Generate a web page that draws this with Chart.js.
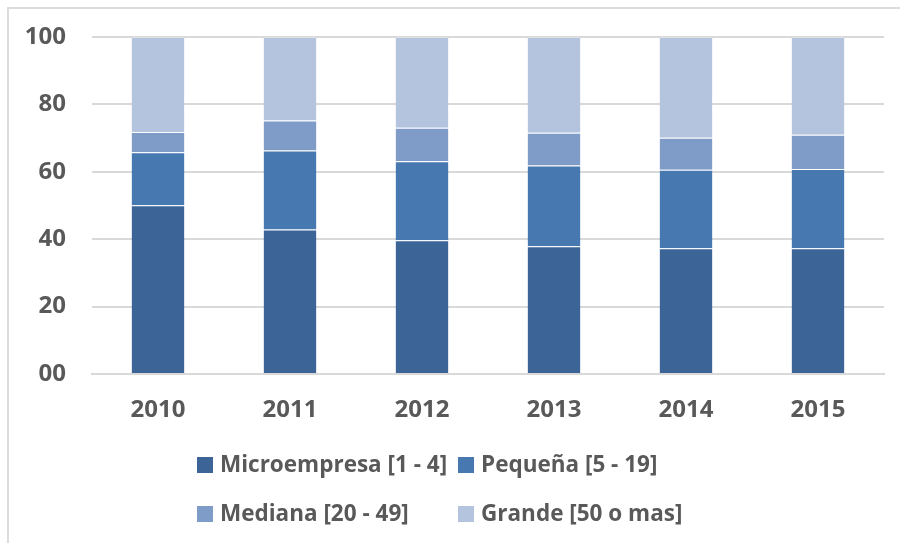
<!DOCTYPE html>
<html>
<head>
<meta charset="utf-8">
<script src="https://cdn.jsdelivr.net/npm/chart.js@4.4.1/dist/chart.umd.min.js"></script>
<style>
  html, body { margin: 0; padding: 0; background: #fff; }
  #wrap { position: relative; width: 900px; height: 543px; overflow: hidden; }
  #frame { position: absolute; left: 7px; top: 7px; width: 1000px; height: 1000px;
           border-left: 2px solid #dcdcdc; border-top: 2px solid #dcdcdc; box-sizing: border-box; }
  #c { position: absolute; left: 0; top: 0; }
  .lg { position: absolute; font-family: "Open Sans", sans-serif; font-weight: 700;
        font-size: 22.5px; color: #595959; white-space: nowrap; line-height: 1; }
  .sq { position: absolute; width: 16px; height: 16px; }
</style>
</head>
<body>
<div id="wrap">
  <div id="frame"></div>
  <canvas id="c" width="900" height="543"></canvas>
  <div id="legend"></div>
</div>
<script>
const categories = ['2010', '2011', '2012', '2013', '2014', '2015'];
const seriesNames = ['Microempresa [1 - 4]', 'Pequeña [5 - 19]', 'Mediana [20 - 49]', 'Grande [50 o mas]'];
const microempresa = [50.1, 42.9, 39.7, 37.9, 37.3, 37.3];
const pequena      = [15.7, 23.4, 23.4, 24.0, 23.3, 23.5];
const mediana      = [6.0, 8.9, 10.0, 9.7, 9.5, 10.2];
const grande       = [28.2, 24.8, 26.9, 28.4, 29.9, 29.0];
const yTickLabels  = ['00', '20', '40', '60', '80', '100'];
const colors = ['#3d6496', '#4878b0', '#7f9cc8', '#b5c4de'];

const seriesData = [microempresa, pequena, mediana, grande];
const font = { family: '"Open Sans", sans-serif', size: 24, weight: '700' };

new Chart(document.getElementById('c'), {
  type: 'bar',
  data: {
    labels: categories,
    datasets: seriesData.map((d, i) => ({
      label: seriesNames[i],
      data: d,
      backgroundColor: colors[i],
      borderColor: 'rgba(255,255,255,0.25)',
      borderWidth: { top: 1, bottom: 0, left: 0, right: 0 },
      barPercentage: 0.4,
      categoryPercentage: 1.0
    }))
  },
  options: {
    responsive: false,
    animation: false,
    layout: { padding: { left: 0, right: 16, top: 37, bottom: 109 } },
    plugins: { legend: { display: false }, tooltip: { enabled: false } },
    scales: {
      x: {
        stacked: true,
        grid: { display: false, drawTicks: false },
        border: { display: true, color: '#d9d9d9', width: 2 },
        ticks: { color: '#595959', font: font, padding: 22 },
        afterFit: s => { s.height = 60; s.paddingLeft = 0; s.paddingRight = 0; }
      },
      y: {
        stacked: true,
        min: 0, max: 100,
        grid: { color: '#d9d9d9', lineWidth: 2, drawTicks: false },
        border: { display: false },
        ticks: {
          stepSize: 20,
          color: '#595959', font: font, padding: 26,
          callback: (v, i) => yTickLabels[i]
        },
        afterFit: s => { s.width = 92; s.paddingTop = 0; s.paddingBottom = 0; }
      }
    }
  }
});

// Legend (two rows, aligned columns)
const legendPos = [
  { sx: 197, tx: 220, cy: 465 },
  { sx: 458, tx: 481, cy: 465 },
  { sx: 197, tx: 220, cy: 514 },
  { sx: 458, tx: 481, cy: 514 }
];
const lg = document.getElementById('legend');
seriesNames.forEach((name, i) => {
  const p = legendPos[i];
  const sq = document.createElement('div');
  sq.className = 'sq';
  sq.style.left = p.sx + 'px';
  sq.style.top = (p.cy - 8) + 'px';
  sq.style.background = colors[i];
  lg.appendChild(sq);
  const t = document.createElement('div');
  t.className = 'lg';
  t.textContent = name;
  t.style.left = p.tx + 'px';
  t.style.top = (p.cy - 12) + 'px';
  lg.appendChild(t);
});
</script>
</body>
</html>
